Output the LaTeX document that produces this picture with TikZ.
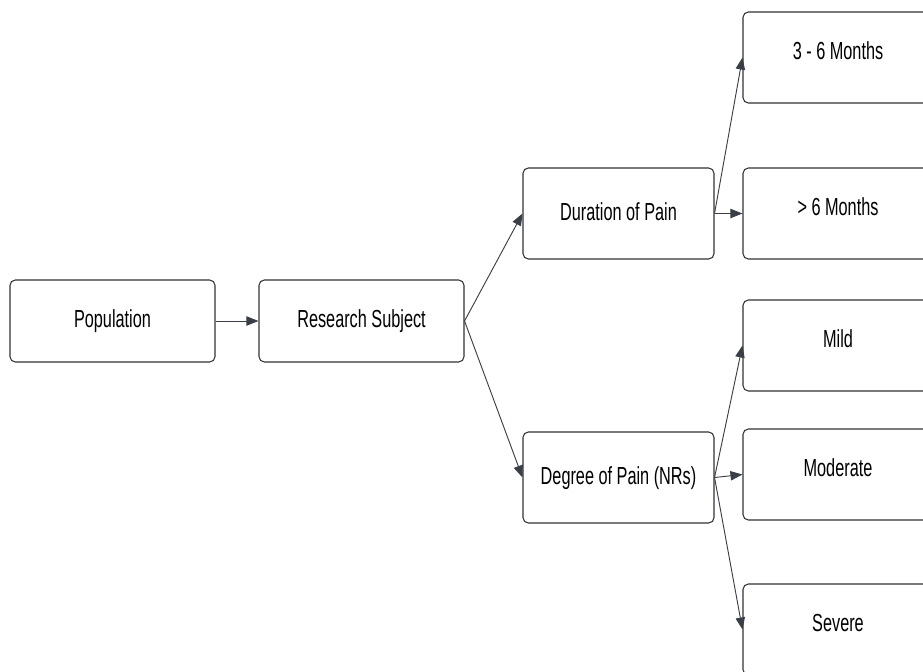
\documentclass[tikz,border=0pt]{standalone}
\usepackage{fontspec}
\setmainfont{Liberation Sans}[FakeStretch=0.66]
\usetikzlibrary{arrows.meta, positioning}

\definecolor{edgegray}{HTML}{3A3F47}
\definecolor{boxline}{HTML}{333333}

\begin{document}
\begin{tikzpicture}[
    x=0.75pt, y=-0.75pt,
    font=\fontsize{18.5}{22}\selectfont,
    box/.style={draw=boxline, line width=0.8pt, rounded corners=4pt, rectangle, fill=white, align=center, text height=14pt, text depth=4pt},
    mainbox/.style={box, minimum width=205*0.75pt, minimum height=82*0.75pt},
    midbox/.style={box, minimum width=191*0.75pt, minimum height=91*0.75pt},
    rbox/.style={box, minimum width=190*0.75pt, minimum height=91*0.75pt, text depth=11pt},
    arr/.style={-{Triangle[length=9pt, width=7pt]}, draw=edgegray, line width=0.7pt}
]
\useasboundingbox (0,0) rectangle (923,671);

\node[mainbox] (pop) at (112.5,321) {Population};
\node[mainbox] (subj) at (361.5,321) {Research Subject};

\node[midbox] (dur) at (618.5,213.5) {Duration of Pain};
\node[midbox] (deg) at (618.5,477.5) {Degree of Pain (NRs)};

\node[rbox] (short) at (838,57.5) {3 - 6 Months};
\node[rbox] (long) at (838,213.5) {> 6 Months};
\node[rbox] (mild) at (838,345.5) {Mild};
\node[rbox] (moder) at (838,474.5) {Moderate};
\node[rbox] (sev) at (838,629.5) {Severe};

\draw[arr] (pop.east) -- (subj.west);
\draw[arr] (subj.east) -- (dur.west);
\draw[arr] (subj.east) -- (deg.west);

\draw[arr] (dur.east) -- (short.west);
\draw[arr] (dur.east) -- (long.west);

\draw[arr] (deg.east) -- (mild.west);
\draw[arr] (deg.east) -- (moder.west);
\draw[arr] (deg.east) -- (sev.west);

\end{tikzpicture}
\end{document}
